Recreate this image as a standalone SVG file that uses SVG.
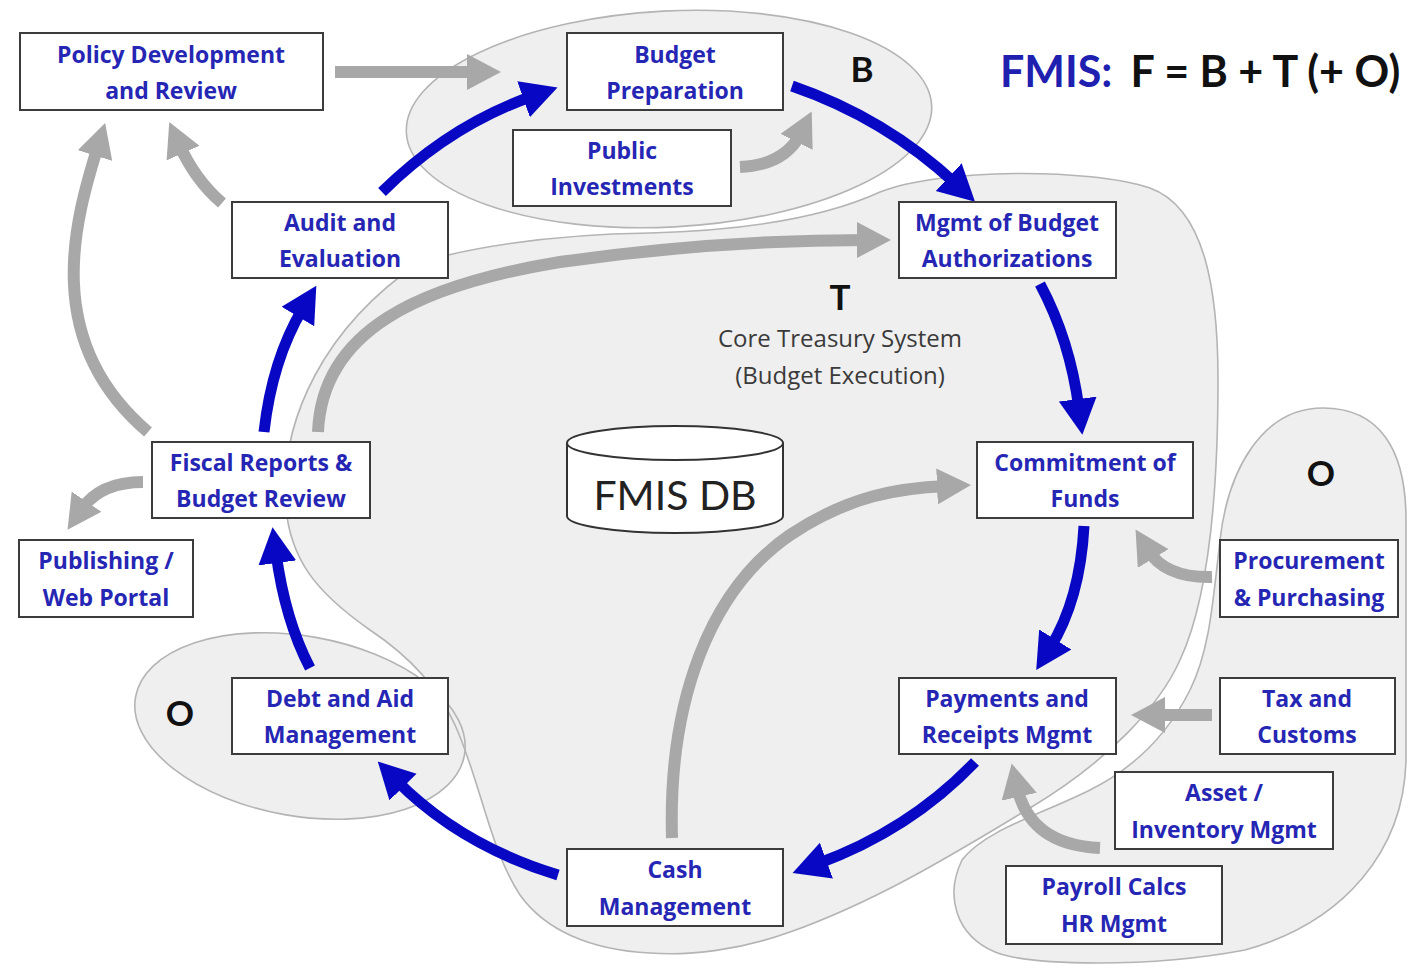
<svg xmlns="http://www.w3.org/2000/svg" width="1409" height="969" viewBox="0 0 1409 969">
<style>
.blob{fill:#efefef;stroke:none}
.outline{fill:none;stroke:#b4b4b4;stroke-width:1.6}
.box{fill:#fff;stroke:#3c3c3c;stroke-width:2}
.bt{font-family:"Open Sans","Liberation Sans",sans-serif;font-weight:bold;font-size:23px;fill:#2626b4;text-anchor:middle}
.lbl{font-family:Lato,"Liberation Sans",sans-serif;font-weight:bold;font-size:35px;fill:#111;text-anchor:middle}
.sub{font-family:"Open Sans","Liberation Sans",sans-serif;font-size:24px;fill:#3a3a3a;text-anchor:middle}
.blue{fill:none;stroke:#0808c4;stroke-width:11;marker-end:url(#hb)}
.gray{fill:none;stroke:#a8a8a8;stroke-width:12;marker-end:url(#hg)}
</style>
<defs>
<marker id="hb" markerUnits="userSpaceOnUse" markerWidth="40" markerHeight="40" refX="10" refY="19" orient="auto" viewBox="0 0 40 40"><path d="M0,0 L36,19 L0,38 z" fill="#0808c4"/></marker>
<marker id="hg" markerUnits="userSpaceOnUse" markerWidth="40" markerHeight="40" refX="10" refY="18" orient="auto" viewBox="0 0 40 40"><path d="M0,0 L34,18 L0,36 z" fill="#a8a8a8"/></marker>
</defs>
<rect width="1409" height="969" fill="#fff"/>
<g id="regions">
<path id="T-fill" class="blob" d="M420,262 C500,240 580,234 650,233 C760,230 830,215 880,192 C940,168 1090,168 1150,188 C1205,208 1218,290 1218,380 C1218,500 1208,600 1180,660 C1160,705 1110,760 1030,808 C960,850 880,900 790,932 C740,950 690,956 650,953 C590,950 545,930 520,895 C490,850 480,780 455,725 C435,680 400,650 370,630 C320,595 285,560 285,490 C285,420 320,330 420,262 Z"/>
<path id="O-right-fill" class="blob" d="M1323,408 C1380,408 1406,450 1406,520 L1406,760 C1404,850 1345,922 1245,950 C1150,968 1030,966 995,952 C955,935 945,895 962,860 C985,830 1040,815 1090,790 C1140,765 1170,730 1190,690 C1210,650 1213,600 1220,540 C1228,470 1262,408 1323,408 Z"/>
<ellipse id="B-fill" class="blob" cx="669" cy="119" rx="263" ry="108" transform="rotate(-3 669 119)"/>
<ellipse id="O-left-fill" class="blob" cx="300" cy="726" rx="167" ry="90" transform="rotate(10 300 726)"/>
<path class="outline" d="M420,262 C500,240 580,234 650,233 C760,230 830,215 880,192 C940,168 1090,168 1150,188 C1205,208 1218,290 1218,380 C1218,500 1208,600 1180,660 C1160,705 1110,760 1030,808 C960,850 880,900 790,932 C740,950 690,956 650,953 C590,950 545,930 520,895 C490,850 480,780 455,725 C435,680 400,650 370,630 C320,595 285,560 285,490 C285,420 320,330 420,262 Z"/>
<path class="outline" d="M1323,408 C1380,408 1406,450 1406,520 L1406,760 C1404,850 1345,922 1245,950 C1150,968 1030,966 995,952 C955,935 945,895 962,860 C985,830 1040,815 1090,790 C1140,765 1170,730 1190,690 C1210,650 1213,600 1220,540 C1228,470 1262,408 1323,408 Z"/>
<ellipse class="outline" cx="669" cy="119" rx="263" ry="108" transform="rotate(-3 669 119)"/>
<ellipse class="outline" cx="300" cy="726" rx="167" ry="90" transform="rotate(10 300 726)"/>
<text class="lbl" x="862" y="82">B</text>
<text class="lbl" x="840" y="310">T</text>
<text class="sub" x="840" y="347">Core Treasury System</text>
<text class="sub" x="840" y="384">(Budget Execution)</text>
<text class="lbl" x="1321" y="486">O</text>
<text class="lbl" x="180" y="726">O</text>
</g>
<g id="title">
<text x="1000" y="87" style="font-family:Lato,'Liberation Sans',sans-serif;font-weight:bold;font-size:43px"><tspan fill="#2020b0">FMIS:</tspan><tspan fill="#111" dx="18">F = B + T (+ O)</tspan></text>
</g>
<g id="connectors">
<path class="gray" d="M335,72 L477,72"/>
<path class="gray" d="M740,167 Q785,165 801,133"/>
<path class="gray" d="M222,203 Q195,180 179,144"/>
<path class="gray" d="M148,432 C40,340 75,220 98,146"/>
<path class="gray" d="M143,482 Q100,482 81,510"/>
<path class="gray" d="M318,432 C322,330 420,285 560,262 C680,245 780,240 867,240"/>
<path class="gray" d="M672,838 C668,700 710,590 790,535 C850,495 900,488 947,486"/>
<path class="gray" d="M1212,577 Q1165,578 1148,550"/>
<path class="gray" d="M1212,715 L1155,715"/>
<path class="gray" d="M1100,848 Q1030,845 1017,787"/>
<path class="blue" d="M382,192 Q450,125 533,96"/>
<path class="blue" d="M792,86 Q885,118 956,184"/>
<path class="blue" d="M1040,284 Q1070,340 1079,409"/>
<path class="blue" d="M1084,526 Q1080,600 1050,648"/>
<path class="blue" d="M975,762 Q910,830 817,864"/>
<path class="blue" d="M558,875 Q460,845 396,780"/>
<path class="blue" d="M310,668 Q285,620 276,553"/>
<path class="blue" d="M264,432 Q272,360 303,308"/>
</g>
<g id="fmis-db">
<path d="M567,443 L567,516 A108,17 0 0 0 783,516 L783,443" fill="#fff" stroke="#333" stroke-width="2"/>
<ellipse cx="675" cy="443" rx="108" ry="17" fill="#fff" stroke="#333" stroke-width="2"/>
<text x="675" y="510" style="font-family:Lato,'Liberation Sans',sans-serif;font-size:41px;fill:#222;text-anchor:middle">FMIS DB</text>
</g>
<g id="policy"><rect class="box" x="20" y="33" width="303" height="77"/><text class="bt" x="171" y="63">Policy Development</text><text class="bt" x="171" y="99">and Review</text></g>
<g id="budget-prep"><rect class="box" x="567" y="33" width="216" height="77"/><text class="bt" x="675" y="63">Budget</text><text class="bt" x="675" y="99">Preparation</text></g>
<g id="public-inv"><rect class="box" x="513" y="130" width="218" height="76"/><text class="bt" x="622" y="159">Public</text><text class="bt" x="622" y="195">Investments</text></g>
<g id="audit"><rect class="box" x="232" y="202" width="216" height="76"/><text class="bt" x="340" y="231">Audit and</text><text class="bt" x="340" y="267">Evaluation</text></g>
<g id="mgmt-auth"><rect class="box" x="899" y="202" width="217" height="76"/><text class="bt" x="1007" y="231">Mgmt of Budget</text><text class="bt" x="1007" y="267">Authorizations</text></g>
<g id="fiscal"><rect class="box" x="152" y="442" width="218" height="76"/><text class="bt" x="261" y="471">Fiscal Reports &amp;</text><text class="bt" x="261" y="507">Budget Review</text></g>
<g id="publishing"><rect class="box" x="19" y="540" width="174" height="77"/><text class="bt" x="106" y="569">Publishing /</text><text class="bt" x="106" y="606">Web Portal</text></g>
<g id="commitment"><rect class="box" x="977" y="442" width="216" height="76"/><text class="bt" x="1085" y="471">Commitment of</text><text class="bt" x="1085" y="507">Funds</text></g>
<g id="procurement"><rect class="box" x="1220" y="540" width="178" height="77"/><text class="bt" x="1309" y="569">Procurement</text><text class="bt" x="1309" y="606">&amp; Purchasing</text></g>
<g id="debt"><rect class="box" x="232" y="678" width="216" height="76"/><text class="bt" x="340" y="707">Debt and Aid</text><text class="bt" x="340" y="743">Management</text></g>
<g id="payments"><rect class="box" x="899" y="678" width="217" height="76"/><text class="bt" x="1007" y="707">Payments and</text><text class="bt" x="1007" y="743">Receipts Mgmt</text></g>
<g id="tax"><rect class="box" x="1220" y="678" width="175" height="76"/><text class="bt" x="1307" y="707">Tax and</text><text class="bt" x="1307" y="743">Customs</text></g>
<g id="asset"><rect class="box" x="1115" y="772" width="218" height="77"/><text class="bt" x="1224" y="801">Asset /</text><text class="bt" x="1224" y="838">Inventory Mgmt</text></g>
<g id="payroll"><rect class="box" x="1006" y="866" width="216" height="78"/><text class="bt" x="1114" y="895">Payroll Calcs</text><text class="bt" x="1114" y="932">HR Mgmt</text></g>
<g id="cash"><rect class="box" x="567" y="849" width="216" height="77"/><text class="bt" x="675" y="878">Cash</text><text class="bt" x="675" y="915">Management</text></g>
</svg>
